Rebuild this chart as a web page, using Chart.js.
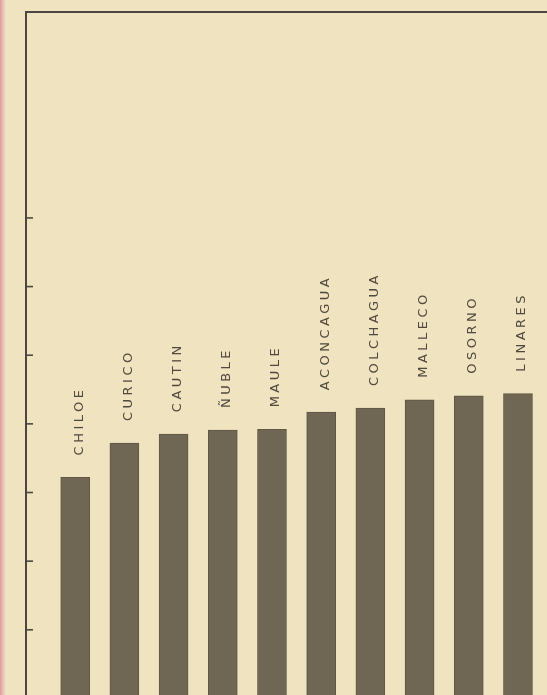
<!DOCTYPE html>
<html>
<head>
<meta charset="utf-8">
<script src="https://cdn.jsdelivr.net/npm/chart.js@4.4.1/dist/chart.umd.min.js"></script>
<style>
  html, body {
    margin: 0;
    padding: 0;
    width: 547px;
    height: 695px;
    overflow: hidden;
    background: linear-gradient(to right, #dc98a0 0px, #e9c2b4 3px, #f0e3c0 6px, #f0e3c0 100%);
  }
  #chart { display: block; }
</style>
</head>
<body>
<canvas id="chart" width="547" height="695"></canvas>
<script>
// provinces, left to right
const provinces = ['CHILOE', 'CURICO', 'CAUTIN', 'ÑUBLE', 'MAULE', 'ACONCAGUA', 'COLCHAGUA', 'MALLECO', 'OSORNO', 'LINARES'];
// bar heights (no printed scale, units of the axis ticks)
const values = [32.2, 37.2, 38.5, 39.1, 39.2, 41.7, 42.3, 43.5, 44.1, 44.4];
// tick marks drawn on the left axis
const axisTicks = [10, 20, 30, 40, 50, 60, 70];

const ink = '#4b4640';
const barInk = '#6f6653';

// frame (left axis + top rule) and the little inward ticks
const framePlugin = {
  id: 'frame',
  afterDatasetsDraw(chart) {
    const { ctx, chartArea } = chart;
    const y = chart.scales.y;
    ctx.save();
    ctx.strokeStyle = ink;
    ctx.lineWidth = 2;
    ctx.beginPath();
    ctx.moveTo(chartArea.left, chartArea.bottom);
    ctx.lineTo(chartArea.left, chartArea.top);
    ctx.lineTo(chartArea.right, chartArea.top);
    ctx.stroke();
    ctx.lineWidth = 1.6;
    axisTicks.forEach(v => {
      const py = y.getPixelForValue(v);
      ctx.beginPath();
      ctx.moveTo(chartArea.left, py);
      ctx.lineTo(chartArea.left + 7, py);
      ctx.stroke();
    });
    ctx.restore();
  }
};

// vertical province names above each bar
const namePlugin = {
  id: 'names',
  afterDatasetsDraw(chart) {
    const { ctx } = chart;
    const meta = chart.getDatasetMeta(0);
    ctx.save();
    ctx.fillStyle = '#4f493f';
    ctx.font = '13px "DejaVu Sans", sans-serif';
    ctx.letterSpacing = '3.5px';
    ctx.textAlign = 'left';
    ctx.textBaseline = 'middle';
    meta.data.forEach((bar, i) => {
      ctx.save();
      ctx.translate(bar.x + 4, bar.y - 22);
      ctx.rotate(-Math.PI / 2);
      ctx.fillText(provinces[i], 0, 0);
      ctx.restore();
    });
    ctx.restore();
  }
};

new Chart(document.getElementById('chart'), {
  type: 'bar',
  data: {
    datasets: [{
      data: values.map((v, i) => ({ x: i + 1, y: v })),
      backgroundColor: barInk,
      borderColor: '#5f5747',
      borderWidth: 1,
      barThickness: 29
    }]
  },
  options: {
    responsive: false,
    animation: false,
    devicePixelRatio: 1,
    layout: { padding: { left: 26, top: 12, right: 0, bottom: 0 } },
    plugins: {
      legend: { display: false },
      tooltip: { enabled: false }
    },
    scales: {
      x: {
        type: 'linear',
        offset: false,
        min: 0,
        max: 10.59,
        display: false
      },
      y: {
        min: 0.5,
        max: 100,
        display: false
      }
    }
  },
  plugins: [framePlugin, namePlugin]
});
</script>
</body>
</html>
